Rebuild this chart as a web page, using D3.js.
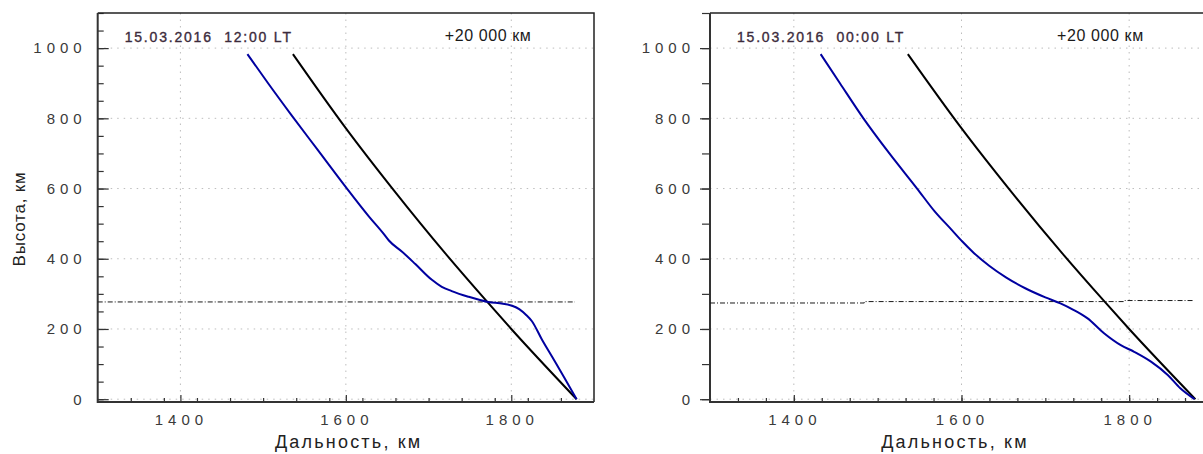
<!DOCTYPE html>
<html>
<head>
<meta charset="utf-8">
<script src="https://cdn.jsdelivr.net/npm/d3@7/dist/d3.min.js"></script>
<style>
	body { margin: 0; background: #fff; }
	svg { display: block; font-family: "Liberation Sans", Arial, sans-serif; }
	.tick text { font-size: 15px; letter-spacing: 5px; fill: #3a3a3a; }
	.grid line { stroke: #bdbdbd; stroke-width: 1; stroke-dasharray: 1.5,5; }
</style>
</head>
<body>
<div id="chart"></div>
<script>
// values (range in km, height in km)

const xTicks = [1400, 1600, 1800];
const yTicks = [0, 200, 400, 600, 800, 1000];
const panelTitles = ["15.03.2016  12:00 LT", "15.03.2016  00:00 LT"];
const offsetLabel = "+20 000 км";
const xLabel = "Дальность, км";
const yLabel = "Высота, км";

// geometric line of sight, the same in both panels
const rayX = [1536, 1599, 1659, 1720, 1771, 1800, 1879];
const rayH = [983, 775, 592, 416, 277, 200, 0];

// refracted ray, 12:00 LT
const noonX = [1481, 1506, 1534, 1566, 1600, 1628, 1646, 1652, 1668, 1684, 1704, 1716, 1728, 1748, 1772, 1790, 1801, 1810, 1818, 1825, 1837, 1849, 1864, 1879];
const noonH = [983, 900, 810, 710, 604, 520, 470, 452, 420, 385, 340, 320, 308, 292, 277, 272, 266, 256, 240, 222, 170, 122, 62, 0];

// refracted ray, 00:00 LT
const nightX = [1432, 1455, 1483, 1514, 1547, 1568, 1588, 1601, 1615, 1633, 1653, 1676, 1700, 1718, 1734, 1750, 1770, 1790, 1806, 1826, 1846, 1861, 1878];
const nightH = [983, 900, 800, 700, 600, 535, 483, 449, 416, 380, 347, 316, 290, 273, 254, 231, 188, 154, 135, 107, 69, 31, 0];

// dash-dot level line
const levelNoonX = [1300, 1877];
const levelNoonH = [277, 277];
const levelNightX = [1300, 1484, 1484, 1795, 1795, 1878];
const levelNightH = [274, 274, 278, 278, 281, 281];


const width = 1203, height = 454;
const LS = 5; // letter spacing of the tick labels

const svg = d3.select("#chart").append("svg")
	.attr("width", width)
	.attr("height", height);

svg.append("rect").attr("width", width).attr("height", height).attr("fill", "#fff");

function zip(xs, ys) {
	return xs.map(function(x, i) { return [x, ys[i]]; });
}

// put spaced-out labels so that the visible ink ends / is centred where wanted
function alignRight(texts, right) {
	texts.each(function() {
		var w = this.getComputedTextLength() - LS;
		d3.select(this).attr("text-anchor", "start").attr("x", right - w);
	});
}
function alignCenter(texts, center) {
	texts.each(function() {
		var w = this.getComputedTextLength() - LS;
		d3.select(this).attr("text-anchor", "start").attr("x", center - w / 2);
	});
}

function drawPanel(opts) {
	var x = d3.scaleLinear().domain([1300, 1900]).range([opts.left, opts.right]);
	var y = d3.scaleLinear().domain([-8, 1100]).range([402, 13]);
	var g = svg.append("g");

	// dotted grid
	var grid = g.append("g").attr("class", "grid");
	grid.selectAll("line.gx").data(xTicks).enter().append("line")
		.attr("x1", d => x(d)).attr("x2", d => x(d))
		.attr("y1", y.range()[1]).attr("y2", y.range()[0]);
	grid.selectAll("line.gy").data(yTicks).enter().append("line")
		.attr("x1", x.range()[0]).attr("x2", x.range()[1])
		.attr("y1", d => y(d)).attr("y2", d => y(d));

	// y axis
	var yMinor = d3.axisLeft(y).tickValues(d3.range(0, 1101, opts.yMinorStep))
		.tickFormat("").tickSize(opts.yMinorSize);
	g.append("g").attr("transform", "translate(" + opts.left + ",0)").call(yMinor)
		.call(a => a.select(".domain").remove());
	var yMajor = d3.axisLeft(y).tickValues(yTicks).tickSize(opts.yMajorSize)
		.tickFormat(d3.format("d"));
	g.append("g").attr("transform", "translate(" + opts.left + ",0)").call(yMajor)
		.call(a => a.select(".domain").remove())
		.call(a => alignRight(a.selectAll("text"), opts.yLabelRight));

	// x axis, ticks pointing up into the plot
	var xMinor = d3.axisBottom(x).tickValues(d3.range(1300 + opts.xMinorStep, 1899, opts.xMinorStep))
		.tickFormat("").tickSizeInner(-4).tickSizeOuter(0);
	g.append("g").attr("transform", "translate(0,402)").call(xMinor)
		.call(a => a.select(".domain").remove());
	var xMajor = d3.axisBottom(x).tickValues(xTicks).tickSizeInner(-7).tickSizeOuter(0)
		.tickPadding(12).tickFormat(d3.format("d"));
	g.append("g").attr("transform", "translate(0,402)").call(xMajor)
		.call(a => a.select(".domain").remove())
		.call(a => alignCenter(a.selectAll("text"), -2));
	g.selectAll(".tick line").attr("stroke", "#333").attr("stroke-width", 1.2);

	// frame
	g.append("path")
		.attr("d", "M" + x.range()[0] + "," + y.range()[1] + "H" + x.range()[1] + "V" + y.range()[0])
		.attr("fill", "none").attr("stroke", "#222").attr("stroke-width", 1.5);
	g.append("path")
		.attr("d", "M" + x.range()[0] + "," + y.range()[1] + "V" + y.range()[0] + "H" + x.range()[1])
		.attr("fill", "none").attr("stroke", "#333").attr("stroke-width", 2);

	var line = d3.line().x(d => x(d[0])).y(d => y(d[1]));

	// level line
	g.append("path")
		.datum(zip(opts.levelX, opts.levelH))
		.attr("d", line)
		.attr("fill", "none").attr("stroke", "#1a1a1a").attr("stroke-width", 1)
		.attr("stroke-dasharray", "5,2,1,2");

	var smooth = d3.line().x(d => x(d[0])).y(d => y(d[1])).curve(d3.curveMonotoneX);

	g.append("path")
		.datum(zip(rayX, rayH))
		.attr("d", smooth)
		.attr("fill", "none").attr("stroke", "#000").attr("stroke-width", 2);

	g.append("path")
		.datum(zip(opts.blueX, opts.blueH))
		.attr("d", smooth)
		.attr("fill", "none").attr("stroke", "#0000a0").attr("stroke-width", 2);

	// labels
	g.append("text")
		.attr("x", opts.left + 27).attr("y", 41.5)
		.attr("font-size", 14).attr("letter-spacing", 1.8)
		.attr("fill", "#3c2b3c").attr("stroke", "#3c2b3c").attr("stroke-width", 0.35)
		.style("white-space", "pre")
		.text(opts.title);
	g.append("text")
		.attr("x", opts.left + 347).attr("y", 41)
		.attr("font-size", 16).attr("letter-spacing", 0.6)
		.attr("fill", "#1a1a1a")
		.text(offsetLabel);
	g.append("text")
		.attr("x", x.range()[0] + 250 + opts.xLabelShift).attr("y", 448)
		.attr("text-anchor", "middle")
		.attr("font-size", 18).attr("letter-spacing", 2.2)
		.attr("fill", "#222")
		.text(xLabel);
}

drawPanel({
	left: 97.7, right: 594,
	title: panelTitles[0],
	blueX: noonX, blueH: noonH,
	levelX: levelNoonX, levelH: levelNoonH,
	yMinorStep: 50, yMinorSize: -6, yMajorSize: -11, yLabelRight: -16,
	xMinorStep: 40, xLabelShift: 1
});

drawPanel({
	left: 710, right: 1213,
	title: panelTitles[1],
	blueX: nightX, blueH: nightH,
	levelX: levelNightX, levelH: levelNightH,
	yMinorStep: 100, yMinorSize: 8, yMajorSize: 10, yLabelRight: -20,
	xMinorStep: 200 / 6, xLabelShift: -5
});

// y axis title, left panel only
svg.append("text")
	.attr("transform", "translate(25,219) rotate(-90)")
	.attr("text-anchor", "middle")
	.attr("font-size", 17).attr("letter-spacing", 0.8)
	.attr("fill", "#222")
	.text(yLabel);
</script>
</body>
</html>
